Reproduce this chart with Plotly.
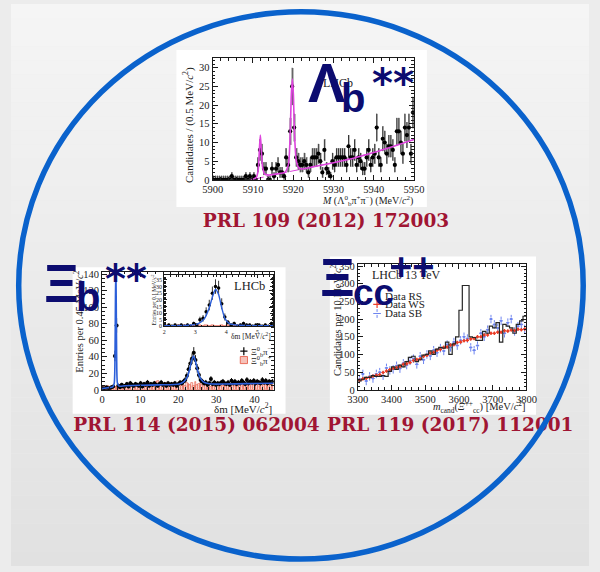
import numpy as np
import plotly.graph_objects as go

W, H = 600, 572


def px(x):
    return x / W


def py(y):
    return 1 - y / H


SERIF = "Liberation Serif"
SANS = "Liberation Sans"
INK = "#1a1a1a"
NAVY = "#0c0c70"
CRIMSON = "#a01533"
RING = "#0a62cc"

# ---------------- Lambda_b** : M(Lambda_b0 pi+ pi-), 0.5 MeV bins ----------------
LB_LO, LB_W = 5900.0, 0.5
lb_counts = [
    0, 0, 0, 0, 0, 0, 0, 0, 0, 1,
    0, 0, 0, 0, 0, 0, 1, 0, 1, 0,
    1, 0, 4, 8, 7, 3, 3, 0, 0, 3,
    1, 3, 4, 2, 2, 1, 6, 4, 13, 25,
    14, 6, 5, 4, 4, 5, 4, 2, 4, 6,
    6, 6, 7, 5, 2, 8, 3, 2, 1, 5,
    4, 6, 6, 6, 6, 6, 4, 9, 6, 6,
    8, 4, 6, 5, 3, 3, 6, 8, 4, 6,
    7, 14, 6, 4, 11, 10, 7, 9, 9, 8,
    4, 13, 13, 10, 7, 14, 12, 14, 7, 18,
]
lb_fit_x = [5909.5, 5910.8, 5911.3, 5911.6, 5911.85, 5912.1, 5912.4, 5912.9, 5914.0, 5916.0,
            5918.0, 5918.8, 5919.25, 5919.55, 5919.8, 5920.05, 5920.35, 5920.8, 5921.4, 5922.2,
            5925.0, 5930.0, 5935.0, 5940.0, 5945.0, 5950.0]
lb_fit_y = [0.0, 0.6, 2.5, 8.0, 12.0, 8.0, 3.5, 1.6, 1.3, 1.6,
            2.1, 4.0, 12.0, 23.0, 27.0, 23.0, 12.0, 5.0, 3.2, 2.9,
            3.5, 4.6, 5.8, 7.3, 9.0, 10.8]
lb_bkg_x = [5910.5, 5913.0, 5916.0, 5919.0, 5922.0, 5930.0, 5940.0, 5950.0]
lb_bkg_y = [0.2, 0.9, 1.6, 2.2, 2.8, 4.6, 7.3, 10.8]

# ---------------- Xi_b** : delta m, 0.45 MeV bins ----------------
XB_LO, XB_W = 0.0, 0.45
xb_rs = [
    2, 1, 3, 2, 2, 3, 4, 41, 78, 5,
    3, 6, 4, 5, 7, 4, 8, 6, 5, 7,
    6, 5, 8, 4, 7, 6, 9, 5, 7, 6,
    8, 6, 5, 7, 9, 6, 7, 5, 8, 6,
    7, 6, 8, 5, 7, 9, 8, 10, 12, 17,
    25, 32, 38, 45, 36, 26, 18, 12, 10, 8,
    9, 6, 8, 13, 7, 9, 6, 8, 7, 9,
    10, 8, 7, 9, 6, 11, 8, 10, 7, 9,
    8, 11, 9, 7, 12, 8, 10, 9, 11, 8,
    10, 9, 8, 12, 9, 11, 8, 10, 9, 10,
]
xb_ws = [
    4, 5, 3, 5, 4, 3, 5, 4, 3, 5,
    4, 5, 6, 4, 5, 3, 6, 5, 4, 6,
    5, 6, 4, 7, 5, 6, 8, 5, 6, 7,
    6, 9, 11, 8, 6, 7, 5, 8, 6, 7,
    6, 8, 5, 7, 6, 9, 6, 7, 5, 8,
    7, 6, 8, 5, 9, 6, 7, 8, 6, 7,
    6, 5, 7, 4, 6, 5, 8, 6, 5, 7,
    5, 7, 6, 8, 5, 6, 7, 5, 8, 6,
    7, 6, 8, 5, 7, 6, 9, 7, 6, 8,
    7, 8, 6, 7, 9, 6, 7, 8, 7, 6,
]
xb_fit_x = [0.0, 1.5, 2.8, 3.2, 3.4, 3.52, 3.62, 3.72, 3.84, 4.05, 4.5, 6.0, 10.0, 15.0,
            19.0, 20.5, 21.5, 22.3, 23.0, 23.5, 24.0, 24.5, 25.0, 25.7, 26.5, 27.5, 29.0,
            32.0, 38.0, 45.0]
xb_fit_y = [1.5, 2.5, 3.5, 8.0, 40.0, 110.0, 150.0, 110.0, 40.0, 8.0, 4.5, 5.0, 5.5, 6.0,
            6.5, 7.5, 10.0, 15.0, 25.0, 35.0, 41.0, 35.0, 25.0, 15.0, 10.0, 8.0, 7.0,
            7.0, 7.5, 8.0]

# inset: 0.1 MeV bins around the narrow state
IN_LO, IN_W = 2.0, 0.1
in_rs = [0, 1, 0, 1, 0, 1, 0, 1, 0, 2,
         1, 5, 6, 11, 16, 25, 30, 29, 17, 7,
         3, 1, 2, 0, 1, 2, 1, 1, 0, 1,
         1, 0, 1, 0, 2]
in_ws = [0, 1, 0, 0, 1, 0, 1, 0, 0, 1,
         0, 1, 0, 1, 0, 1, 0, 0, 1, 0,
         1, 0, 0, 1, 0, 1, 0, 1, 0, 0,
         1, 0, 1, 0, 1]
in_fit_x = [2.0, 2.8, 3.1, 3.3, 3.45, 3.55, 3.65, 3.75, 3.85, 3.95, 4.1, 4.4, 5.0, 5.5]
in_fit_y = [0.4, 0.8, 2.0, 6.0, 14.0, 22.0, 28.0, 24.0, 14.0, 6.0, 2.0, 0.8, 0.5, 0.5]

# ---------------- Xi_cc++ : m_cand, 10 MeV bins ----------------
CC_LO, CC_W = 3300.0, 10.0
cc_rs = [
    25, 30, 35, 35, 40, 38, 38, 40, 38, 52,
    65, 58, 70, 65, 80, 92, 95, 80, 85, 98,
    100, 110, 100, 115, 120, 118, 135, 100, 130, 150,
    225, 295, 295, 150, 148, 140, 140, 165, 160, 180,
    175, 190, 135, 185, 180, 175, 160, 185, 195, 208,
]
cc_ws = [
    27, 31, 33, 35, 39, 41, 43, 49, 53, 57,
    61, 63, 66, 72, 74, 77, 83, 86, 88, 95,
    98, 104, 106, 112, 114, 120, 121, 127, 128, 134,
    135, 139, 140, 144, 145, 150, 150, 155, 155, 160,
    160, 163, 163, 167, 166, 169, 168, 171, 170, 172,
]
cc_sb = [
    30, 45, 25, 38, 32, 45, 50, 40, 62, 55,
    58, 68, 60, 75, 70, 82, 88, 72, 95, 85,
    100, 96, 112, 105, 118, 110, 128, 120, 135, 125,
    140, 150, 145, 120, 112, 125, 160, 150, 170, 200,
    185, 175, 195, 160, 190, 200, 165, 180, 185, 172,
]
CC_WS_ERR, CC_SB_ERR = 5.0, 12.0

# publication references under each panel
refs = ["PRL 109 (2012) 172003", "PRL 114 (2015) 062004", "PRL 119 (2017) 112001"]

# ------------------------------------------------------------------
lb_x = LB_LO + LB_W * (np.arange(len(lb_counts)) + 0.5)
xb_x = XB_LO + XB_W * (np.arange(len(xb_rs)) + 0.5)
in_x = IN_LO + IN_W * (np.arange(len(in_rs)) + 0.5)
cc_edges = CC_LO + CC_W * np.arange(len(cc_rs) + 1)
cc_x = CC_LO + CC_W * (np.arange(len(cc_rs)) + 0.5)


def poisson_err(counts):
    n = np.asarray(counts, dtype=float)
    hi = np.where(n > 0, np.sqrt(n), 1.15)
    lo = np.minimum(np.sqrt(n), n)
    return lo, hi


fig = go.Figure()

# ---- Lambda_b panel ----
lo, hi = poisson_err(lb_counts)
lb_n = np.asarray(lb_counts, dtype=float)
fig.add_trace(go.Bar(x=lb_x, y=lo + hi, base=lb_n - lo, width=LB_W,
                     marker=dict(color="#bdbdbd", line=dict(width=0)),
                     xaxis="x", yaxis="y", hoverinfo="skip"))
fig.add_trace(go.Scatter(x=lb_bkg_x, y=lb_bkg_y, mode="lines",
                         line=dict(color="#dd44dd", width=1, dash="dashdot"),
                         xaxis="x", yaxis="y"))
fig.add_trace(go.Scatter(x=lb_x, y=lb_counts, mode="markers",
                         marker=dict(size=4.2, color="black"),
                         error_y=dict(type="data", symmetric=False, array=hi, arrayminus=lo,
                                      thickness=0.8, width=0, color="#111"),
                         xaxis="x", yaxis="y"))
fig.add_trace(go.Scatter(x=lb_fit_x, y=lb_fit_y, mode="lines",
                         line=dict(color="#dd44dd", width=1.6, shape="spline", smoothing=0.7),
                         xaxis="x", yaxis="y"))

# ---- Xi_b panel ----
hatch = dict(color="rgba(255,240,236,0.6)", line=dict(color="#e5533d", width=0.6),
             pattern=dict(shape="x", fgcolor="#e5533d", size=3, solidity=0.25))
fig.add_trace(go.Bar(x=xb_x, y=xb_ws, width=XB_W, marker=hatch, xaxis="x2", yaxis="y2"))
lo, hi = poisson_err(xb_rs)
fig.add_trace(go.Scatter(x=xb_x, y=xb_rs, mode="markers",
                         marker=dict(size=4, color="black"),
                         error_y=dict(type="data", symmetric=False, array=hi, arrayminus=lo,
                                      thickness=0.9, width=0, color="black"),
                         xaxis="x2", yaxis="y2"))
fig.add_trace(go.Scatter(x=xb_fit_x, y=xb_fit_y, mode="lines",
                         line=dict(color="#2c5fd9", width=1.6, shape="spline", smoothing=0.6),
                         xaxis="x2", yaxis="y2"))
# inset
fig.add_trace(go.Bar(x=in_x, y=in_ws, width=IN_W, marker=hatch, xaxis="x3", yaxis="y3"))
lo, hi = poisson_err(in_rs)
fig.add_trace(go.Scatter(x=in_x, y=in_rs, mode="markers",
                         marker=dict(size=3.5, color="black"),
                         error_y=dict(type="data", symmetric=False, array=hi, arrayminus=lo,
                                      thickness=0.8, width=0, color="black"),
                         xaxis="x3", yaxis="y3"))
fig.add_trace(go.Scatter(x=in_fit_x, y=in_fit_y, mode="lines",
                         line=dict(color="#2c5fd9", width=1.4, shape="spline", smoothing=0.6),
                         xaxis="x3", yaxis="y3"))

# ---- Xi_cc++ panel ----
sb_ex, sb_ey = [], []
for xv, yv in zip(cc_x, cc_sb):
    sb_ex += [xv, xv, None]
    sb_ey += [yv - CC_SB_ERR, yv + CC_SB_ERR, None]
fig.add_trace(go.Scatter(x=sb_ex, y=sb_ey, mode="lines",
                         line=dict(color="#6d84f0", width=1, dash="dot"),
                         xaxis="x4", yaxis="y4"))
fig.add_trace(go.Scatter(x=cc_x, y=cc_sb, mode="markers",
                         marker=dict(size=2.5, color="#6d84f0"),
                         error_x=dict(type="constant", value=CC_W / 2, thickness=1, width=0,
                                      color="#6d84f0"),
                         xaxis="x4", yaxis="y4"))
fig.add_trace(go.Scatter(x=cc_x, y=cc_ws, mode="markers",
                         marker=dict(size=2.5, color="#ea3b24"),
                         error_x=dict(type="constant", value=CC_W / 2, thickness=1.2, width=0,
                                      color="#ea3b24"),
                         error_y=dict(type="constant", value=CC_WS_ERR, thickness=1.2, width=0,
                                      color="#ea3b24"),
                         xaxis="x4", yaxis="y4"))
fig.add_trace(go.Scatter(x=cc_edges, y=list(cc_rs) + [cc_rs[-1]], mode="lines",
                         line=dict(color="#262626", width=1.2, shape="hv"),
                         xaxis="x4", yaxis="y4"))

# ---- reference captions, on a full-page pixel layer so the ring passes over them ----
fig.add_trace(go.Scatter(x=[327, 192.5, 456], y=[222, 430, 430], text=refs, mode="text",
                         textposition="middle center",
                         textfont=dict(family="DejaVu Serif", size=18.5, color=CRIMSON,
                                       weight="bold"),
                         xaxis="x5", yaxis="y5", hoverinfo="skip"))

# ---- axes ----
tickfont = dict(family=SERIF, size=10.5, color="#222")


def frame(domain, rng, dtick, minor, anchor, ticklen=5, font=tickfont):
    return dict(domain=domain, range=rng, dtick=dtick, anchor=anchor,
                showline=True, linecolor=INK, linewidth=1, mirror="ticks",
                ticks="inside", ticklen=ticklen, tickcolor=INK, tickwidth=1,
                minor=dict(ticks="inside", dtick=minor, ticklen=ticklen * 0.5,
                           tickcolor=INK, tickwidth=0.8),
                showgrid=False, zeroline=False, tickfont=font, fixedrange=True)


small = dict(family=SERIF, size=6, color="#222")
hidden = dict(domain=[0, 1], visible=False, showgrid=False, zeroline=False, fixedrange=True)
fig.update_layout(
    xaxis=frame([px(209.3), px(418.3)], [5900, 5950], 10, 2, "y"),
    yaxis=frame([py(179), py(55)], [0, 32.6], 5, 1, "x"),
    xaxis2=frame([px(94.5), px(272.5)], [0, 45], 10, 2, "y2"),
    yaxis2=frame([py(392.7), py(272.7)], [0, 142.7], 20, 5, "x2"),
    xaxis3=frame([px(159), px(272)], [2, 5.5], 1, 0.2, "y3", ticklen=3, font=small),
    yaxis3=frame([py(328), py(276)], [0, 38.6], 5, 1, "x3", ticklen=3, font=small),
    xaxis4=frame([px(360), px(535)], [3300, 3800], 100, 20, "y4"),
    yaxis4=frame([py(392.7), py(265)], [0, 354.7], 50, 10, "x4"),
    xaxis5=dict(range=[0, W], anchor="y5", **hidden),
    yaxis5=dict(range=[H, 0], anchor="x5", **hidden),
)

# ---- background, white cards, ring ----
shapes = []
N_BANDS = 40
for i in range(N_BANDS):
    g = int(round(245 - (245 - 225) * i / (N_BANDS - 1)))
    shapes.append(dict(type="rect", xref="paper", yref="paper", x0=0, x1=1,
                       y0=1 - (i + 1) / N_BANDS, y1=1 - i / N_BANDS,
                       fillcolor=f"rgb({g},{g},{g})", line=dict(width=0), layer="below"))
for x0, x1, y0, y1 in [(171.7, 431.7, 46.7, 206.7), (64, 285, 268, 417), (331, 545, 257, 418)]:
    shapes.append(dict(type="rect", xref="paper", yref="paper", x0=px(x0), x1=px(x1),
                       y0=py(y1), y1=py(y0), fillcolor="white", line=dict(width=0),
                       layer="below"))
# legend glyphs
shapes += [
    dict(type="line", xref="paper", yref="paper", x0=px(238), x1=px(245.5), y0=py(353.3), y1=py(353.3),
         line=dict(color="black", width=1.2)),
    dict(type="line", xref="paper", yref="paper", x0=px(241.7), x1=px(241.7), y0=py(357.5), y1=py(349.3),
         line=dict(color="black", width=1.2)),
    dict(type="rect", xref="paper", yref="paper", x0=px(238), x1=px(245.5), y0=py(366), y1=py(358.8),
         fillcolor="rgba(236,120,100,0.45)", line=dict(color="#e5533d", width=0.8)),
    dict(type="line", xref="paper", yref="paper", x0=px(376), x1=px(384), y0=py(305.7), y1=py(305.7),
         line=dict(color="#ea3b24", width=1.2)),
    dict(type="line", xref="paper", yref="paper", x0=px(380), x1=px(380), y0=py(309.5), y1=py(302),
         line=dict(color="#ea3b24", width=1.2)),
    dict(type="line", xref="paper", yref="paper", x0=px(376), x1=px(384), y0=py(315), y1=py(315),
         line=dict(color="#6d84f0", width=1)),
    dict(type="line", xref="paper", yref="paper", x0=px(380), x1=px(380), y0=py(319.5), y1=py(310.5),
         line=dict(color="#6d84f0", width=1, dash="dot")),
]
# ring
shapes.append(dict(type="circle", xref="paper", yref="paper",
                   x0=px(301 - 293), x1=px(301 + 293), y0=py(286.5 + 278.5), y1=py(286.5 - 278.5),
                   line=dict(color=RING, width=5.5), layer="above"))

# ---- texts ----
anns = []


def ann(text, x, y, size, color="#222", family=SERIF, xanchor="center", yanchor="middle",
        angle=0, weight="normal"):
    anns.append(dict(text=text, x=px(x), y=py(y), xref="paper", yref="paper", showarrow=False,
                     xanchor=xanchor, yanchor=yanchor, textangle=angle,
                     font=dict(family=family, size=size, color=color, weight=weight)))


C2 = "MeV/<i>c</i><sup>2</sup>"
# axis titles
ann(f"Candidates / (0.5 {C2})", 185, 123, 11, angle=-90)
ann(f"<i>M</i> (Λ<sup>0</sup><sub>b</sub>π<sup>+</sup>π<sup>−</sup>) ({C2})", 419, 200, 10,
    xanchor="right")
ann(f"Entries per 0.45 {C2}", 70, 323, 10.5, angle=-90)
ann(f"δm [{C2}]", 273, 411, 11, xanchor="right")
ann(f"Entries per 0.1 {C2}", 148, 301, 5.5, angle=-90)
ann(f"δm [{C2}]", 272, 337.5, 7.5, xanchor="right")
ann(f"Candidates per 10 {C2}", 337, 322, 10.5, angle=-90)
ann(f"<i>m</i><sub>cand</sub>(<i>Ξ</i><sup>++</sup><sub>cc</sub>) [{C2}]", 536, 410, 10.5,
    xanchor="right")
# in-plot labels
ann("LHCb", 339, 80, 12)
ann("LHCb", 248, 287.5, 12.5)
ann("Ξ<sup>0</sup><sub>b</sub>π<sup>−</sup>", 247, 353.3, 9, xanchor="left")
ann("Ξ<sup>0</sup><sub>b</sub>π<sup>+</sup>", 247, 362.5, 9, xanchor="left")
ann("LHCb 13 TeV", 373, 276, 12, xanchor="left")
ann("Data RS", 386.5, 296.7, 11, xanchor="left")
ann("Data WS", 386.5, 305.7, 11, xanchor="left")
ann("Data SB", 386.5, 315, 11, xanchor="left")
# particle names
ann("Λ", 327.5, 80, 56, color=NAVY, family=SANS, weight="bold")
ann("b", 355, 96, 40, color=NAVY, family=SANS, weight="bold")
ann("**", 397, 80, 40, color=NAVY, family="DejaVu Sans", weight="bold")
ann("Ξ", 52, 284, 54, color=NAVY, family=SANS, weight="bold")
ann("b", 80, 298, 40, color=NAVY, family=SANS, weight="bold")
ann("**", 119, 280, 40, color=NAVY, family="DejaVu Sans", weight="bold")
ann("Ξ", 339, 278, 54, color=NAVY, family=SANS, weight="bold")
ann("cc", 376, 294, 37, color=NAVY, family=SANS, weight="bold")
ann("++", 416, 268, 38, color=NAVY, family=SANS, weight="bold")

fig.update_layout(
    width=W, height=H, autosize=False, margin=dict(l=0, r=0, t=0, b=0),
    paper_bgcolor="#ececec", plot_bgcolor="rgba(0,0,0,0)",
    showlegend=False, barmode="overlay", bargap=0,
    shapes=shapes, annotations=anns,
)

fig.write_html("out.html")
